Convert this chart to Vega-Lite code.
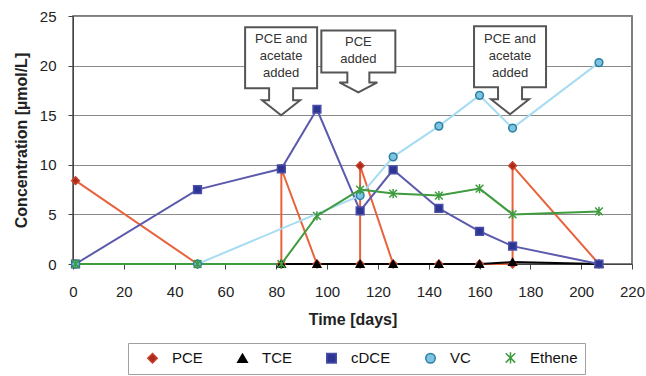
{
  "$schema": "https://vega.github.io/schema/vega-lite/v6.json",
  "width": 559,
  "height": 248,
  "autosize": {"type": "none"},
  "padding": {"left": 73, "top": 16, "right": 14, "bottom": 112},
  "background": "white",
  "config": {
    "font": "Liberation Sans",
    "view": {"stroke": "#555", "strokeWidth": 1.5},
    "axis": {"labelFont": "Liberation Sans", "labelFontSize": 15, "labelColor": "#222", "titleFont": "Liberation Sans", "titleFontSize": 16, "titleFontWeight": "bold", "titleColor": "#222", "domainColor": "#444", "tickColor": "#444", "tickSize": 5},
    "legend": {"orient": "none", "legendX": 55, "legendY": 327, "direction": "horizontal", "strokeColor": "#a0a0a0", "padding": 7, "symbolSize": 90, "symbolStrokeWidth": 1.5, "symbolOffset": 10, "labelFontSize": 15, "labelFont": "Liberation Sans", "labelColor": "#111", "labelOffset": 12, "columnPadding": 22}
  },
  "datasets": {
    "series": [
      {"series": "PCE", "seq": 1, "day": 1, "value": 8.4},
      {"series": "PCE", "seq": 2, "day": 49, "value": 0},
      {"series": "PCE", "seq": 3, "day": 82, "value": 0},
      {"series": "PCE", "seq": 4, "day": 82, "value": 9.6},
      {"series": "PCE", "seq": 5, "day": 96, "value": 0},
      {"series": "PCE", "seq": 6, "day": 113, "value": 0},
      {"series": "PCE", "seq": 7, "day": 113, "value": 9.9},
      {"series": "PCE", "seq": 8, "day": 126, "value": 0},
      {"series": "PCE", "seq": 9, "day": 144, "value": 0},
      {"series": "PCE", "seq": 10, "day": 160, "value": 0},
      {"series": "PCE", "seq": 11, "day": 173, "value": 0},
      {"series": "PCE", "seq": 12, "day": 173, "value": 9.9},
      {"series": "PCE", "seq": 13, "day": 207, "value": 0},
      {"series": "TCE", "seq": 1, "day": 82, "value": 0},
      {"series": "TCE", "seq": 2, "day": 96, "value": 0},
      {"series": "TCE", "seq": 3, "day": 113, "value": 0},
      {"series": "TCE", "seq": 4, "day": 126, "value": 0},
      {"series": "TCE", "seq": 5, "day": 144, "value": 0},
      {"series": "TCE", "seq": 6, "day": 160, "value": 0},
      {"series": "TCE", "seq": 7, "day": 173, "value": 0.2},
      {"series": "TCE", "seq": 8, "day": 207, "value": 0},
      {"series": "cDCE", "seq": 1, "day": 1, "value": 0},
      {"series": "cDCE", "seq": 2, "day": 49, "value": 7.5},
      {"series": "cDCE", "seq": 3, "day": 82, "value": 9.6},
      {"series": "cDCE", "seq": 4, "day": 96, "value": 15.6},
      {"series": "cDCE", "seq": 5, "day": 113, "value": 5.35},
      {"series": "cDCE", "seq": 6, "day": 126, "value": 9.5},
      {"series": "cDCE", "seq": 7, "day": 144, "value": 5.6},
      {"series": "cDCE", "seq": 8, "day": 160, "value": 3.3},
      {"series": "cDCE", "seq": 9, "day": 173, "value": 1.8},
      {"series": "cDCE", "seq": 10, "day": 207, "value": 0},
      {"series": "VC", "seq": 1, "day": 1, "value": 0},
      {"series": "VC", "seq": 2, "day": 49, "value": 0},
      {"series": "VC", "seq": 3, "day": 113, "value": 6.9},
      {"series": "VC", "seq": 4, "day": 126, "value": 10.8},
      {"series": "VC", "seq": 5, "day": 144, "value": 13.9},
      {"series": "VC", "seq": 6, "day": 160, "value": 17},
      {"series": "VC", "seq": 7, "day": 173, "value": 13.7},
      {"series": "VC", "seq": 8, "day": 207, "value": 20.3},
      {"series": "Ethene", "seq": 1, "day": 1, "value": 0},
      {"series": "Ethene", "seq": 2, "day": 49, "value": 0},
      {"series": "Ethene", "seq": 3, "day": 82, "value": 0},
      {"series": "Ethene", "seq": 4, "day": 96, "value": 4.85},
      {"series": "Ethene", "seq": 5, "day": 113, "value": 7.5},
      {"series": "Ethene", "seq": 6, "day": 126, "value": 7.1},
      {"series": "Ethene", "seq": 7, "day": 144, "value": 6.9},
      {"series": "Ethene", "seq": 8, "day": 160, "value": 7.6},
      {"series": "Ethene", "seq": 9, "day": 173, "value": 5.0},
      {"series": "Ethene", "seq": 10, "day": 207, "value": 5.3}
    ],
    "notes": [
      {"kind": "big", "day": 81.9, "value": 15.0, "tday": 81.9, "tval": 23.3, "label": ["PCE and", "acetate", "added"]},
      {"kind": "small", "day": 112.3, "value": 17.3, "tday": 112.3, "tval": 23.0, "label": ["PCE", "added"]},
      {"kind": "big", "day": 172.0, "value": 15.1, "tday": 172.0, "tval": 23.3, "label": ["PCE and", "acetate", "added"]}
    ]
  },
  "layer": [
    {
      "data": {"name": "series"},
      "mark": {"type": "line", "strokeWidth": 2},
      "encoding": {
        "x": {"field": "day", "type": "quantitative", "scale": {"domain": [0, 220], "nice": false, "zero": false},
              "axis": {"title": "Time [days]", "values": [0, 20, 40, 60, 80, 100, 120, 140, 160, 180, 200, 220], "grid": false, "labelPadding": 15, "titlePadding": 12, "labelFlush": false}},
        "y": {"field": "value", "type": "quantitative", "scale": {"domain": [0, 25], "nice": false},
              "axis": {"title": "Concentration [µmol/L]", "values": [0, 5, 10, 15, 20, 25], "grid": true, "gridColor": "#8a8a8a", "gridWidth": 1, "labelPadding": 12, "titlePadding": 10}},
        "color": {"field": "series", "type": "nominal", "legend": null,
                  "scale": {"domain": ["Ethene", "VC", "cDCE", "TCE", "PCE"], "range": ["#3f9b3f", "#a6dcf2", "#5b5aac", "#000000", "#e8623c"]}},
        "order": {"field": "seq", "type": "quantitative"}
      }
    },
    {
      "data": {"name": "series"},
      "mark": {"type": "point", "filled": true, "opacity": 1, "size": 60, "strokeWidth": 1.5},
      "encoding": {
        "x": {"field": "day", "type": "quantitative"},
        "y": {"field": "value", "type": "quantitative"},
        "shape": {"field": "series", "type": "nominal",
                  "scale": {"domain": ["PCE", "TCE", "cDCE", "VC", "Ethene"], "range": ["diamond", "triangle-up", "square", "circle", "M-1,-1L1,1M-1,1L1,-1M0,-1.2L0,1.2"]},
                  "legend": {"title": null}},
        "fill": {"field": "series", "type": "nominal",
                 "scale": {"domain": ["PCE", "TCE", "cDCE", "VC", "Ethene"], "range": ["#a82a1c", "#000000", "#2c3592", "#7cc4e0", "#3f9b3f"]},
                 "legend": {"title": null}},
        "stroke": {"field": "series", "type": "nominal",
                   "scale": {"domain": ["PCE", "TCE", "cDCE", "VC", "Ethene"], "range": ["#c8402c", "#000000", "#4a4ea8", "#2a7fa3", "#3f9b3f"]},
                   "legend": {"title": null}}
      }
    },
    {
      "data": {"name": "notes"},
      "transform": [{"filter": "datum.kind === 'big'"}],
      "mark": {"type": "point", "filled": true, "opacity": 1, "size": 4, "fill": "white", "stroke": "#555", "strokeWidth": 2,
               "shape": "M-36,-88H36V-27H12V-15H19L0,0L-19,-15H-12V-27H-36Z"},
      "encoding": {
        "x": {"field": "day", "type": "quantitative"},
        "y": {"field": "value", "type": "quantitative"}
      }
    },
    {
      "data": {"name": "notes"},
      "transform": [{"filter": "datum.kind === 'small'"}],
      "mark": {"type": "point", "filled": true, "opacity": 1, "size": 4, "fill": "white", "stroke": "#555", "strokeWidth": 2,
               "shape": "M-37,-62H37V-20H11V-10H19L0,0L-19,-10H-11V-20H-37Z"},
      "encoding": {
        "x": {"field": "day", "type": "quantitative"},
        "y": {"field": "value", "type": "quantitative"}
      }
    },
    {
      "data": {"name": "notes"},
      "mark": {"type": "text", "fontSize": 13, "lineHeight": 17, "color": "#333", "align": "center", "baseline": "top", "font": "Liberation Sans"},
      "encoding": {
        "x": {"field": "tday", "type": "quantitative"},
        "y": {"field": "tval", "type": "quantitative"},
        "text": {"field": "label", "type": "nominal"}
      }
    }
  ]
}
